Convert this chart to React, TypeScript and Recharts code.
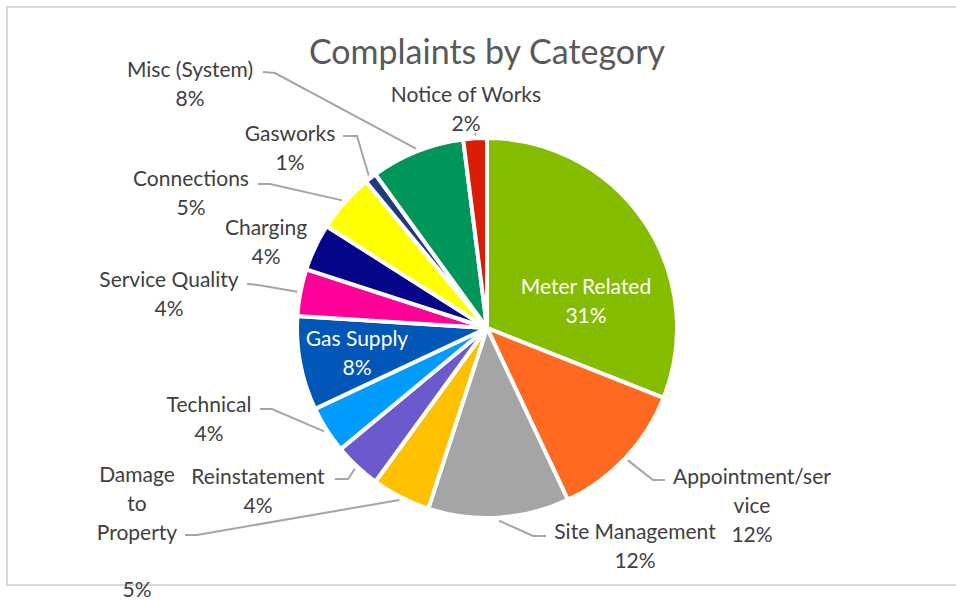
import { Cell, Pie, PieChart } from "recharts";

const categories = [
  "Meter Related",
  "Appointment/service",
  "Site Management",
  "Damage to Property",
  "Reinstatement",
  "Technical",
  "Gas Supply",
  "Service Quality",
  "Charging",
  "Connections",
  "Gasworks",
  "Misc (System)",
  "Notice of Works",
];

const shares = [31, 12, 12, 5, 4, 4, 8, 4, 4, 5, 1, 8, 2];

// wrapped label text as Excel draws it
const labelText = [
  ["Meter Related"],
  ["Appointment/ser", "vice"],
  ["Site Management"],
  ["Damage", "to", "Property", ""],
  ["Reinstatement"],
  ["Technical"],
  ["Gas Supply"],
  ["Service Quality"],
  ["Charging"],
  ["Connections"],
  ["Gasworks"],
  ["Misc (System)"],
  ["Notice of Works"],
];

const sliceColors = [
  "#86bc00",
  "#ff6a20",
  "#a5a5a5",
  "#ffc000",
  "#6a5acd",
  "#009cff",
  "#0057b8",
  "#ff0099",
  "#05058a",
  "#ffff00",
  "#1f3a80",
  "#00965a",
  "#d91e05",
];

type LabelSpot = {
  x: number;
  y: number;
  inside?: boolean;
  elbow?: [number, number];
  end?: [number, number];
};

const labelSpots: LabelSpot[] = [
  { x: 586, y: 285, inside: true },
  { x: 752, y: 475, elbow: [653, 480], end: [665, 480] },
  { x: 635, y: 530, elbow: [533, 536], end: [546, 536] },
  { x: 137, y: 473, elbow: [197, 535], end: [185, 535] },
  { x: 258, y: 475, elbow: [348, 479], end: [335, 479] },
  { x: 209, y: 403, elbow: [272, 409], end: [260, 409] },
  { x: 357, y: 337, inside: true },
  { x: 169, y: 278, elbow: [258, 285], end: [247, 284] },
  { x: 266, y: 226 },
  { x: 191, y: 177, elbow: [270, 184], end: [258, 184] },
  { x: 290, y: 132, elbow: [357, 136], end: [343, 136] },
  { x: 190, y: 68, elbow: [275, 73], end: [263, 72] },
  { x: 466, y: 93, elbow: [476, 133], end: [476, 133] },
];

const RAD = Math.PI / 180;
const LINE_H = 28.8;
const FONT = "Lato, 'Open Sans', sans-serif";

const data = categories.map((name, i) => ({ name, value: shares[i] }));

function SliceLabel(props: any) {
  const { cx, cy, midAngle, outerRadius, index } = props;
  const spot = labelSpots[index];
  const lines = [...labelText[index], `${shares[index]}%`];
  let leader = null;
  if (spot.elbow && spot.end) {
    const r = outerRadius + 3;
    const sx = cx + r * Math.cos(-midAngle * RAD);
    const sy = cy + r * Math.sin(-midAngle * RAD);
    leader = (
      <polyline
        points={`${sx},${sy} ${spot.elbow[0]},${spot.elbow[1]} ${spot.end[0]},${spot.end[1]}`}
        fill="none"
        stroke="#a6a6a6"
        strokeWidth={2}
      />
    );
  }
  return (
    <g>
      {leader}
      <text
        x={spot.x}
        y={spot.y}
        textAnchor="middle"
        dominantBaseline="central"
        fill={spot.inside ? "#ffffff" : "#404040"}
        fontSize={21}
        fontFamily={FONT}
      >
        {lines.map((t, i) => (
          <tspan key={i} x={spot.x} y={spot.y + i * LINE_H}>
            {t}
          </tspan>
        ))}
      </text>
    </g>
  );
}

export default function App() {
  return (
    <div
      style={{
        position: "absolute",
        left: 0,
        top: 0,
        width: 956,
        height: 601,
        background: "#fff",
        overflow: "hidden",
      }}
    >
      <div
        style={{
          position: "absolute",
          left: 6,
          top: 6,
          width: 980,
          height: 576,
          border: "2px solid #d9d9d9",
        }}
      />
      <div style={{ position: "absolute", left: 0, top: 0 }}>
        <PieChart width={956} height={601} margin={{ top: 0, right: 0, bottom: 0, left: 0 }}>
          <text
            x={487}
            y={50}
            textAnchor="middle"
            dominantBaseline="central"
            fill="#595959"
            fontSize={34}
            fontFamily={FONT}
          >
            Complaints by Category
          </text>
          <Pie
            data={data}
            dataKey="value"
            nameKey="name"
            cx={487}
            cy={328}
            outerRadius={190}
            startAngle={90}
            endAngle={-270}
            stroke="#ffffff"
            strokeWidth={4}
            label={SliceLabel}
            labelLine={false}
            isAnimationActive={false}
          >
            {data.map((d, i) => (
              <Cell key={d.name} fill={sliceColors[i]} />
            ))}
          </Pie>
        </PieChart>
      </div>
    </div>
  );
}
